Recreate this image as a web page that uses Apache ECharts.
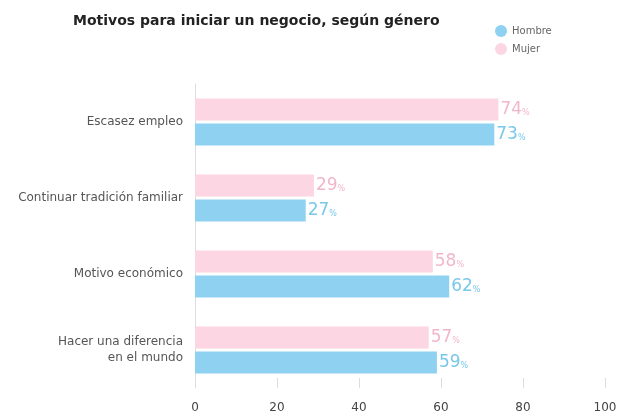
<!DOCTYPE html>
<html>
<head>
<meta charset="utf-8">
<script src="https://cdn.jsdelivr.net/npm/echarts@6/dist/echarts.min.js"></script>
<style>
  html, body { margin: 0; padding: 0; background: #fff; }
  #chart { width: 622px; height: 420px; }
</style>
</head>
<body>
<div id="chart"></div>
<script>
// datos
let categorias = ['Escasez empleo', 'Continuar tradición familiar', 'Motivo económico', 'Hacer una diferencia\nen el mundo']
let hombre = [73, 27, 62, 59]
let mujer = [74, 29, 58, 57]
let ticksX = [0, 20, 40, 60, 80, 100]

let colorHombre = '#8ed1f1'
let colorMujer = '#fcd6e3'
let fuente = 'DejaVu Sans'

let etiqueta = function(color) {
    return {
        show: true,
        position: 'right',
        distance: 2,
        formatter: '{n|{c}}{p|%}',
        rich: {
            n: { fontSize: 17, fontFamily: fuente, color: color, fontWeight: 500 },
            p: { fontSize: 8, fontFamily: fuente, color: color, padding: [6, 0, 0, 0] }
        }
    }
}

let myChart = echarts.init(document.getElementById('chart'))
myChart.setOption({
    animation: false,
    title: {
        text: 'Motivos para iniciar un negocio, según género',
        left: 68,
        top: 9,
        textStyle: { fontSize: 14, fontWeight: 'bold', color: '#222', fontFamily: fuente }
    },
    legend: {
        data: ['Hombre', 'Mujer'],
        orient: 'vertical',
        left: 490,
        top: 20,
        icon: 'circle',
        itemWidth: 12,
        itemHeight: 12,
        itemGap: 6,
        textStyle: { fontSize: 10, color: '#666', fontFamily: fuente }
    },
    grid: { left: 195, right: 17, top: 84, bottom: 32 },
    xAxis: {
        type: 'value',
        min: ticksX[0],
        max: ticksX[ticksX.length - 1],
        interval: 20,
        axisLine: { show: false },
        axisTick: { show: true, inside: true, length: 10, lineStyle: { color: '#ddd' } },
        splitLine: { show: false },
        axisLabel: { fontSize: 12, color: '#444', margin: 14, fontFamily: fuente }
    },
    yAxis: {
        type: 'category',
        data: categorias,
        inverse: true,
        axisLine: { show: true, lineStyle: { color: '#ddd' } },
        axisTick: { show: false },
        axisLabel: { fontSize: 12, color: '#555', margin: 12, lineHeight: 16, fontFamily: fuente }
    },
    series: [
        {
            name: 'Mujer',
            type: 'bar',
            data: mujer,
            barWidth: 22,
            barGap: '14%',
            itemStyle: { color: colorMujer },
            label: etiqueta('#f2b6cb')
        },
        {
            name: 'Hombre',
            type: 'bar',
            data: hombre,
            barWidth: 22,
            barGap: '14%',
            itemStyle: { color: colorHombre },
            label: etiqueta('#79c8ea')
        }
    ]
})
</script>
</body>
</html>
